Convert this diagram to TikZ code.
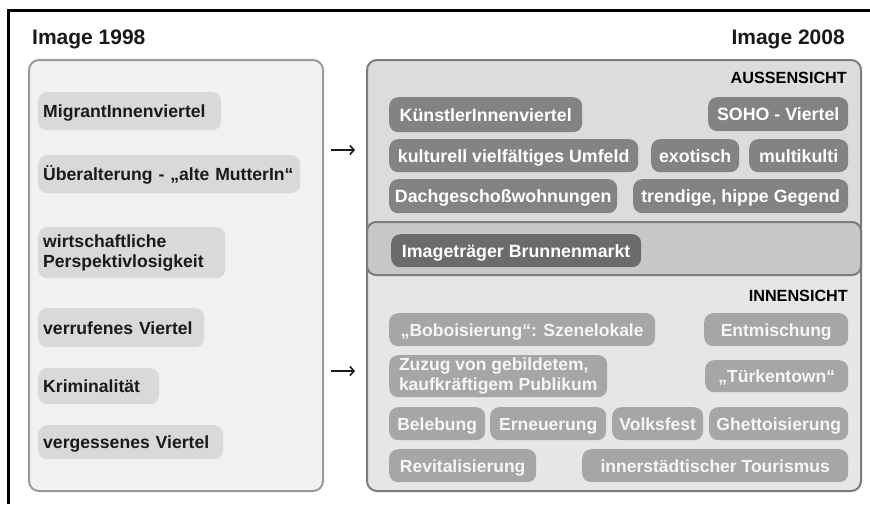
\documentclass[tikz,border=0pt]{standalone}
\usepackage{fontspec}
\setmainfont{Liberation Sans}
\usetikzlibrary{arrows.meta}
\definecolor{leftfill}{HTML}{F1F1F1}
\definecolor{leftborder}{HTML}{999999}
\definecolor{lpillc}{HTML}{D9D9D9}
\definecolor{darktext}{HTML}{1A1A1A}
\definecolor{rupper}{HTML}{DCDCDC}
\definecolor{rlower}{HTML}{E6E6E6}
\definecolor{rborder}{HTML}{7C7C7C}
\definecolor{bandc}{HTML}{C8C8C8}
\definecolor{upillc}{HTML}{838383}
\definecolor{midpillc}{HTML}{6B6B6B}
\definecolor{lowpillc}{HTML}{A6A6A6}
\definecolor{lowtext}{HTML}{F6F6F6}
\tikzset{
  pillbase/.style={rounded corners=9pt, inner sep=0pt, anchor=north west},
  capline/.style={text height=12.8pt, text depth=0pt},
  lpill/.style={pillbase, fill=lpillc, text=darktext, inner xsep=5pt, align=left,
    font=\bfseries\fontsize{17.6}{20}\selectfont},
  upill/.style={pillbase, capline, fill=upillc, text=white, align=center,
    font=\bfseries\fontsize{17.8}{20}\selectfont},
  midpill/.style={pillbase, capline, fill=midpillc, text=white, align=center,
    font=\bfseries\fontsize{17.8}{20}\selectfont},
  lowpill/.style={pillbase, fill=lowpillc, text=lowtext, align=center,
    font=\bfseries\fontsize{17.5}{20}\selectfont},
  heading/.style={inner sep=0pt, text=darktext, font=\bfseries\fontsize{21}{24}\selectfont},
  sectlabel/.style={inner sep=0pt, anchor=east, text=black, font=\bfseries\fontsize{16.2}{18}\selectfont},
  arr/.style={line width=1.8pt, draw=darktext, -{Straight Barb[length=4pt,width=9pt,line width=1.6pt]}},
}
\begin{document}
\begin{tikzpicture}[x=1pt,y=-1pt]
\useasboundingbox (0,0) rectangle (870,504);
\fill[white] (0,0) rectangle (870,504);
% frame lines
\draw[line width=3pt, black] (8,504) -- (8,10) -- (870,10);

% headings
\node[heading, anchor=west] (h98) at (32,39) {Image 1998};
\node[heading, anchor=east] (h08) at (845,39) {Image 2008};

% left box
\draw[line width=2pt, draw=leftborder, fill=leftfill, rounded corners=10pt] (29,60) rectangle (323,491);

\node[lpill, capline, text width=173pt, minimum height=38pt] (l1) at (38,92) {MigrantInnenviertel};
\node[lpill, capline, text width=252pt, minimum height=38pt] (l2) at (38,155) {Überalterung - „alte MutterIn“};
\node[lpill, text width=177pt, minimum height=51pt] (l3) at (38,227) {wirtschaftliche\\Perspektivlosigkeit};
\node[lpill, capline, text width=156pt, minimum height=39pt] (l4) at (38,308) {verrufenes Viertel};
\node[lpill, capline, text width=111pt, minimum height=36pt] (l5) at (38,368) {Kriminalität};
\node[lpill, capline, text width=175pt, minimum height=34pt] (l6) at (38,425) {vergessenes Viertel};

% right box
\begin{scope}
  \clip[rounded corners=10pt] (367,60) rectangle (861,491);
  \fill[rlower] (367,60) rectangle (861,491);
  \fill[rupper] (367,60) rectangle (861,240);
\end{scope}
\draw[line width=2pt, draw=rborder, rounded corners=10pt] (367,60) rectangle (861,491);
\draw[line width=2pt, draw=rborder, fill=bandc, rounded corners=9pt] (367,222) rectangle (861,275);

\node[sectlabel] (auss) at (847,78) {AUSSENSICHT};
\node[sectlabel] (inn) at (848,296) {INNENSICHT};

% upper pills
\node[upill, minimum width=193pt, minimum height=35pt] (u1) at (389,97) {KünstlerInnenviertel};
\node[upill, minimum width=140pt, minimum height=34pt] (u2) at (708,97) {SOHO - Viertel};
\node[upill, minimum width=249pt, minimum height=33pt] (u3) at (389,139) {kulturell vielfältiges Umfeld};
\node[upill, minimum width=88pt, minimum height=33pt] (u4) at (651,139) {exotisch};
\node[upill, minimum width=99pt, minimum height=33pt] (u5) at (749,139) {multikulti};
\node[upill, minimum width=228pt, minimum height=34pt] (u6) at (389,179) {Dachgeschoßwohnungen};
\node[upill, minimum width=215pt, minimum height=34pt] (u7) at (633,179) {trendige, hippe Gegend};

% band pill
\node[midpill, minimum width=250pt, minimum height=33pt] (m1) at (391,234) {Imageträger Brunnenmarkt};

% lower pills
\node[lowpill, capline, minimum width=266pt, minimum height=33pt] (w1) at (389,313) {„Boboisierung“: Szenelokale};
\node[lowpill, capline, minimum width=144pt, minimum height=33pt] (w2) at (704,313) {Entmischung};
\node[lowpill, minimum width=218pt, minimum height=42pt, align=left] (w3) at (389,355) {Zuzug von gebildetem,\\kaufkräftigem Publikum};
\node[lowpill, capline, minimum width=143pt, minimum height=32pt] (w4) at (705,360) {„Türkentown“};
\node[lowpill, capline, minimum width=96pt, minimum height=33pt] (w5) at (389,407) {Belebung};
\node[lowpill, capline, minimum width=116pt, minimum height=33pt] (w6) at (490,407) {Erneuerung};
\node[lowpill, capline, minimum width=91pt, minimum height=33pt] (w7) at (612,407) {Volksfest};
\node[lowpill, capline, minimum width=139pt, minimum height=33pt] (w8) at (709,407) {Ghettoisierung};
\node[lowpill, capline, minimum width=147pt, minimum height=33pt] (w9) at (389,449) {Revitalisierung};
\node[lowpill, capline, minimum width=266pt, minimum height=33pt] (w10) at (582,449) {innerstädtischer Tourismus};

% arrows
\coordinate (a1s) at (331,150);
\coordinate (a1e) at (355,150);
\coordinate (a2s) at (331,371);
\coordinate (a2e) at (355,371);
\draw[arr] (a1s) -- (a1e);
\draw[arr] (a2s) -- (a2e);
\end{tikzpicture}
\end{document}
